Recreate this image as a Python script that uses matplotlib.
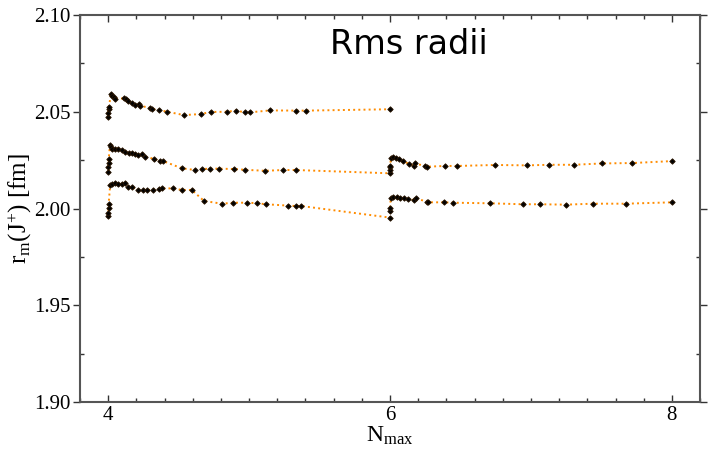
import numpy as np
import matplotlib
matplotlib.use("Agg")
import matplotlib.pyplot as plt
from matplotlib.ticker import MultipleLocator

plt.rcParams['font.family'] = ['Liberation Serif', 'DejaVu Serif']
plt.rcParams['mathtext.fontset'] = 'custom'
plt.rcParams['mathtext.rm'] = 'Liberation Serif'
plt.rcParams['mathtext.it'] = 'Liberation Serif:italic'

# upper series (stops at Nmax = 6)
x1 = [4.0, 4.0, 4.003, 4.005, 4.019, 4.026, 4.038, 4.05, 4.109, 4.125, 4.14, 4.168,
      4.19, 4.22, 4.227, 4.298, 4.31, 4.357, 4.42, 4.536, 4.655, 4.728, 4.84, 4.908,
      4.97, 5.005, 5.149, 5.331, 5.404, 6.0]
y1 = [2.0471, 2.0492, 2.0513, 2.0523, 2.0592, 2.0583, 2.0578, 2.0567, 2.0569, 2.0564,
      2.0556, 2.0544, 2.0535, 2.054, 2.053, 2.0521, 2.0514, 2.0509, 2.05, 2.0483,
      2.0488, 2.0499, 2.05, 2.0506, 2.0497, 2.0497, 2.0507, 2.0506, 2.0506, 2.0513]

# middle series
x2 = [4.002, 4.002, 4.003, 4.004, 4.012, 4.018, 4.03, 4.05, 4.069, 4.097, 4.12, 4.151,
      4.172, 4.19, 4.215, 4.239, 4.262, 4.328, 4.369, 4.39, 4.522, 4.617, 4.664, 4.72,
      4.785, 4.896, 4.974, 5.113, 5.243, 5.33, 6.0, 6.0, 6.0, 6.0, 6.007, 6.023, 6.043,
      6.064, 6.09, 6.137, 6.172, 6.177, 6.248, 6.26, 6.39, 6.477, 6.745, 6.974, 7.13,
      7.303, 7.506, 7.716, 8.0]
y2 = [2.019, 2.0213, 2.0234, 2.0255, 2.0328, 2.032, 2.0308, 2.031, 2.031, 2.0302,
      2.029, 2.0288, 2.0285, 2.0282, 2.0276, 2.0282, 2.0268, 2.0256, 2.0245, 2.0245,
      2.0208, 2.0199, 2.0204, 2.0206, 2.0206, 2.0204, 2.02, 2.0195, 2.0199, 2.0199,
      2.0182, 2.0199, 2.0213, 2.0222, 2.0259, 2.0265, 2.0259, 2.0254, 2.0245, 2.023,
      2.0221, 2.0233, 2.022, 2.0216, 2.022, 2.022, 2.0225, 2.0223, 2.0226, 2.0226,
      2.0233, 2.0235, 2.0245]

# lower series
x3 = [4.0, 4.0, 4.003, 4.003, 4.014, 4.026, 4.05, 4.073, 4.097, 4.12, 4.137, 4.172,
      4.215, 4.25, 4.278, 4.32, 4.357, 4.38, 4.463, 4.522, 4.593, 4.68, 4.806, 4.889,
      4.983, 5.054, 5.118, 5.279, 5.33, 5.369, 6.0, 6.0, 6.0, 6.005, 6.023, 6.05, 6.07,
      6.1, 6.125, 6.17, 6.184, 6.26, 6.27, 6.383, 6.45, 6.709, 6.94, 7.066, 7.248,
      7.44, 7.674, 8.0]
y3 = [1.9961, 1.9978, 2.0001, 2.0023, 2.0121, 2.0127, 2.013, 2.0127, 2.0127, 2.013,
      2.011, 2.011, 2.0096, 2.0096, 2.0096, 2.0096, 2.0099, 2.0104, 2.0104, 2.0096,
      2.0096, 2.0039, 2.0025, 2.003, 2.003, 2.0028, 2.0022, 2.0015, 2.0013, 2.0013,
      1.9953, 1.9985, 2.0001, 2.0053, 2.0058, 2.0058, 2.0053, 2.0053, 2.0048, 2.0044,
      2.0053, 2.0035, 2.0032, 2.0032, 2.003, 2.0027, 2.0022, 2.0022, 2.002, 2.0025,
      2.0025, 2.0032]

fig = plt.figure(figsize=(7.1, 4.51), dpi=100)
ax = fig.add_axes([0.1127, 0.1086, 0.8733, 0.8581])

for xs, ys in [(x1, y1), (x2, y2), (x3, y3)]:
    ax.plot(xs, ys, ':', color='#ff8c00', lw=1.4, marker='D', ms=2.8,
            mfc='black', mec='#2a1500', mew=0.6)

ax.set_xlim(3.8, 8.2)
ax.set_ylim(1.90, 2.10)
ax.xaxis.set_major_locator(MultipleLocator(2))
ax.xaxis.set_minor_locator(MultipleLocator(0.2))
ax.yaxis.set_major_locator(MultipleLocator(0.05))
ax.yaxis.set_minor_locator(MultipleLocator(0.025))
ax.yaxis.set_major_formatter(matplotlib.ticker.FormatStrFormatter('%.2f'))

ax.tick_params(which='both', direction='in', top=True, right=True, labelsize=15,
               color='#333333', width=1.0, pad=3)
ax.tick_params(which='major', length=5)
ax.tick_params(which='minor', length=3)
ax.tick_params(axis='y', which='major', direction='out', left=True, length=5, pad=2)
for s in ax.spines.values():
    s.set_color('#555555')
    s.set_linewidth(1.5)

ax.set_xlabel(r'N$_\mathrm{max}$', fontsize=17, labelpad=0)
ax.set_ylabel(r'r$_\mathrm{m}$(J$^{+}$) [fm]', fontsize=18)
ax.yaxis.set_label_coords(-0.074, 0.5)

ax.text(0.53, 0.925, 'Rms radii', transform=ax.transAxes, ha='center', va='center',
        fontsize=24, family=['DejaVu Sans'])

fig.savefig('out.png', dpi=100)
